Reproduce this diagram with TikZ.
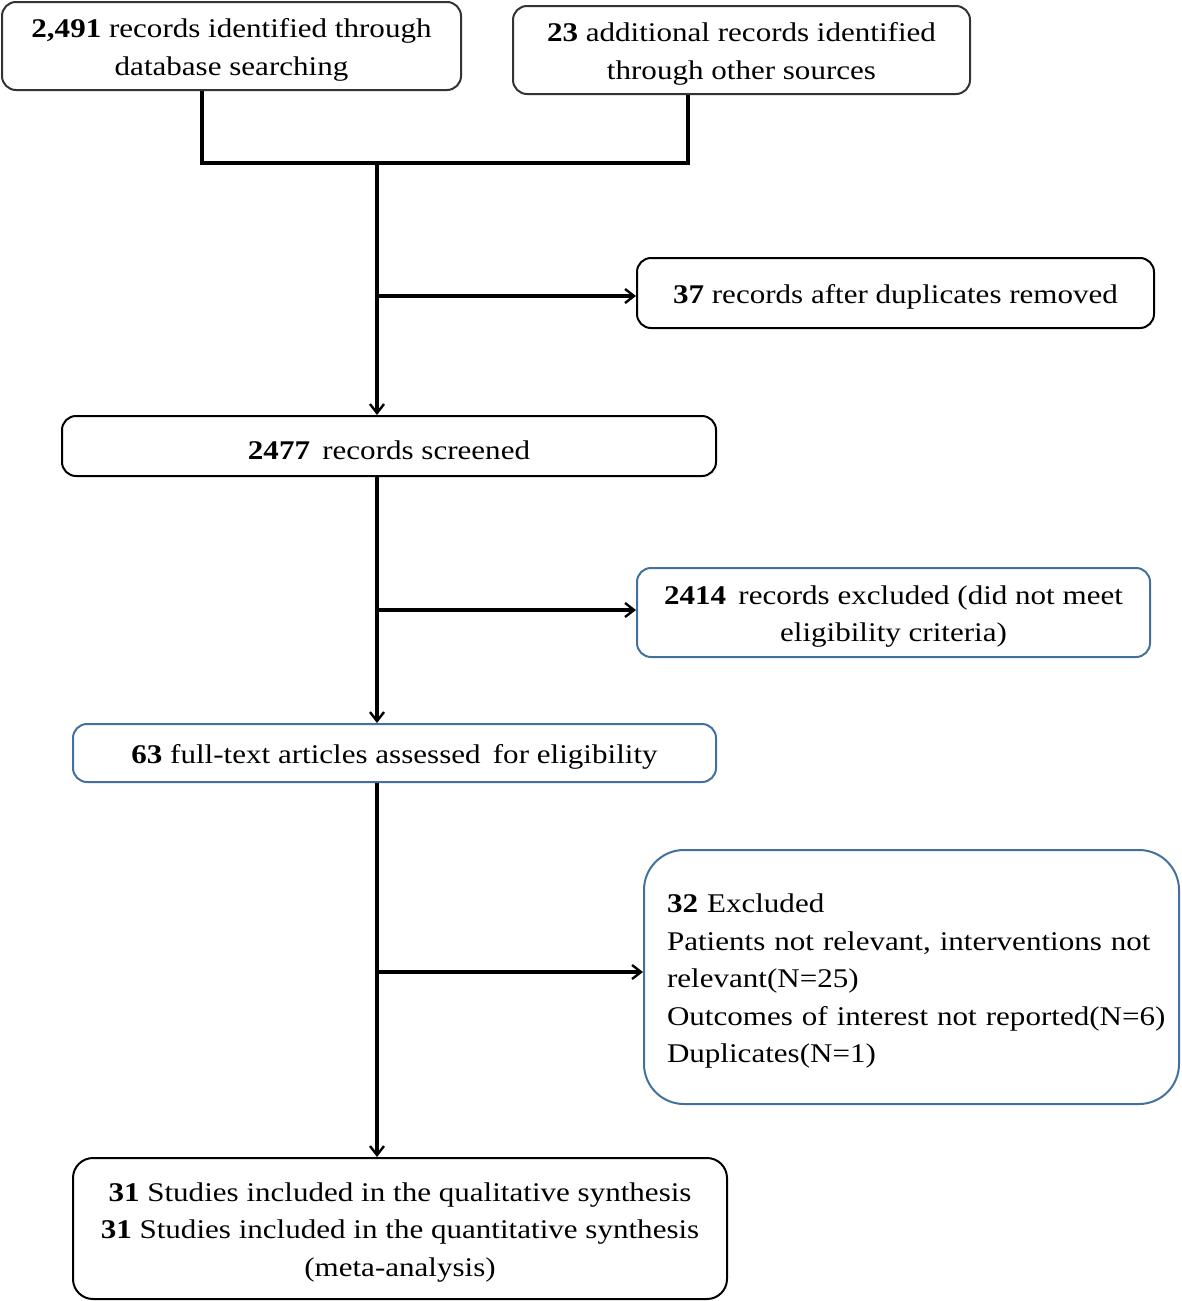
\documentclass[tikz,border=0pt]{standalone}
\usepackage{fontspec}
\setmainfont{Liberation Serif}[FakeStretch=1.15]
\usetikzlibrary{arrows.meta}
\definecolor{boxblue}{HTML}{41719C}
\definecolor{boxgray}{HTML}{333333}
\tikzset{
  box/.style={draw=#1, line width=2pt, rounded corners=14pt, inner sep=0pt, align=center,
    font=\fontsize{27}{37.5}\selectfont},
  box/.default=black,
  oneline/.style={text height=27pt},
  twoline/.style={text height=64pt},
  threeline/.style={text height=101.5pt},
  conn/.style={line width=3.3pt, black},
  arr/.style={conn, -{Straight Barb[length=9pt,width=14pt,line width=2.4pt]}},
}
\begin{document}
\begin{tikzpicture}[x=1pt,y=-1pt]
\useasboundingbox (0,0) rectangle (1181,1301);
\node[box=boxgray, twoline, minimum width=459pt, minimum height=88pt] (b1) at (231.5,46)
  {\textbf{2,491} records identified through\\database searching};
\node[box=boxgray, twoline, minimum width=457pt, minimum height=88pt] (b2) at (741.5,50)
  {\textbf{23} additional records identified\\through other sources};
\node[box, oneline, minimum width=517pt, minimum height=70pt] (b4) at (895.5,293)
  {\textbf{37} records after duplicates removed};
\node[box, oneline, minimum width=654pt, minimum height=60pt] (b3) at (389,446)
  {\textbf{2477}\, records screened};
\node[box=boxblue, twoline, minimum width=513pt, minimum height=89pt] (b5) at (893.5,612.5)
  {\textbf{2414}\, records excluded (did not meet\\eligibility criteria)};
\node[box=boxblue, oneline, minimum width=643pt, minimum height=58pt] (b6) at (394.5,753)
  {\textbf{63} full-text articles assessed\, for eligibility};
\node[box=boxblue, oneline, rounded corners=40pt, text width=489pt, inner xsep=23pt, minimum height=254pt, align=left] (b7) at (911.5,977)
  {\textbf{32} Excluded\\Patients not relevant, interventions not\\relevant(N=25)\\\mbox{Outcomes of interest not reported(N=6)}\\Duplicates(N=1)};
\node[box, threeline, rounded corners=20pt, minimum width=654pt, minimum height=141pt] (b8) at (400,1228.5)
  {\textbf{31} Studies included in the qualitative synthesis\\\textbf{31} Studies included in the quantitative synthesis\\(meta-analysis)};
\coordinate (l) at (202,163);
\coordinate (r) at (688,163);
\coordinate (j) at (377,163);
\draw[conn] (b1.south -| l) -- (l) -- (r) -- (b2.south -| r);
\draw[arr] (j) -- (b3.north -| j);
\draw[arr] ([yshift=-3pt]b4.west -| j) -- ([yshift=-3pt]b4.west);
\draw[arr] (b3.south -| j) -- (b6.north -| j);
\draw[arr] ([yshift=2.5pt]b5.west -| j) -- ([yshift=2.5pt]b5.west);
\draw[arr] (b6.south -| j) -- (b8.north -| j);
\draw[arr] ([yshift=5pt]b7.west -| j) -- ([yshift=5pt]b7.west);
\end{tikzpicture}
\end{document}
